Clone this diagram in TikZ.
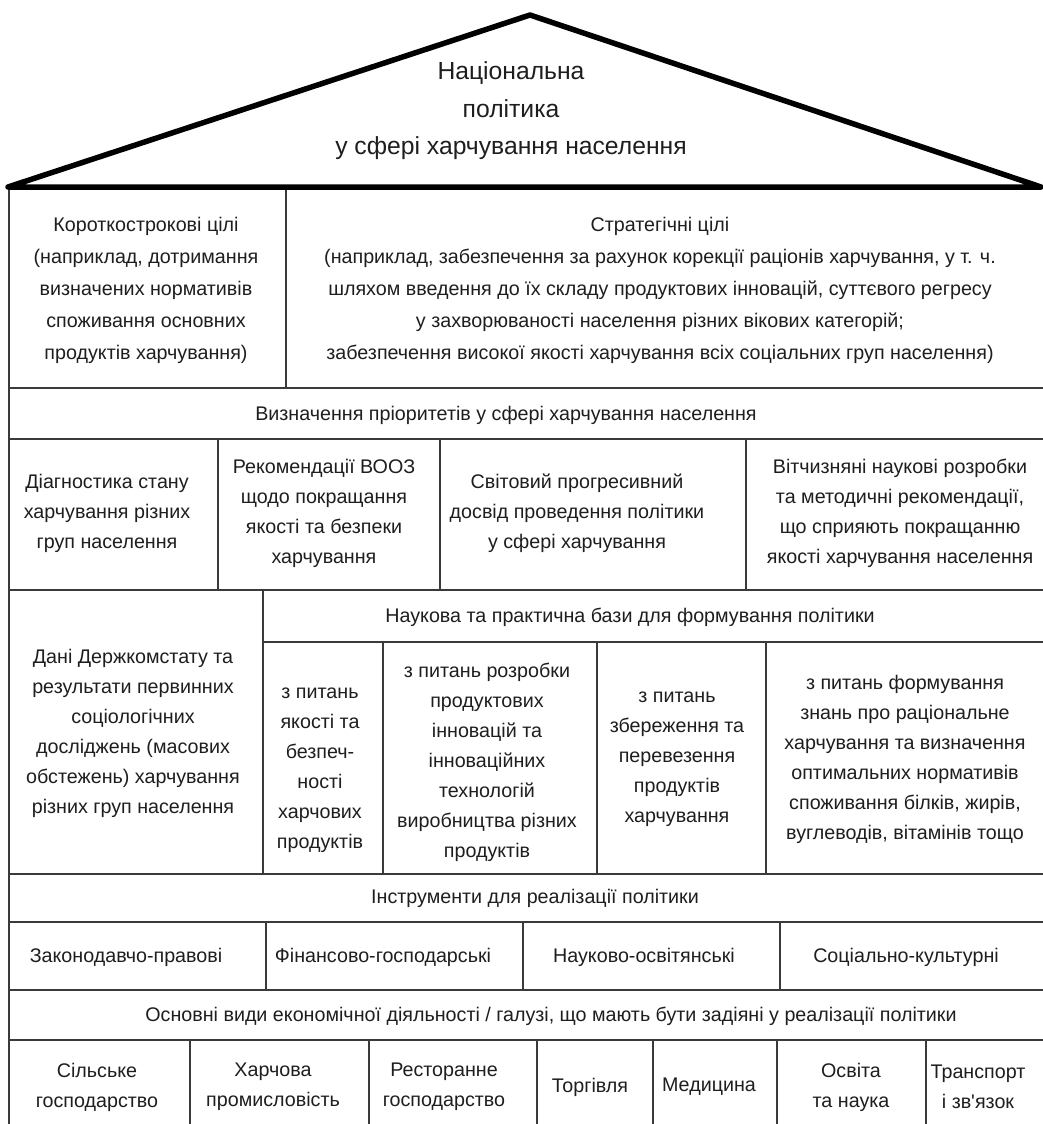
\documentclass[tikz,border=0pt]{standalone}
\usepackage{fontspec}
\setmainfont{Liberation Sans}[Ligatures=TeXOff]
\definecolor{linegray}{HTML}{3A3A3A}
\definecolor{textcol}{HTML}{1E1E1E}
\begin{document}
\begin{tikzpicture}[x=1pt,y=-1pt,
  grid/.style={draw=linegray,line width=1.5pt},
  roof/.style={draw=black,line width=5.5pt,line join=round},
  txt/.style={align=center,inner sep=0pt,text=textcol,font=\fontsize{19.7}{30}\selectfont},
  txtwide/.style={txt,font=\fontsize{19.7}{32}\selectfont},
  title/.style={align=center,inner sep=0pt,text=textcol,font=\fontsize{24.7}{37.5}\selectfont}]
\useasboundingbox (0,0) rectangle (1043,1124);
\fill[white] (0,0) rectangle (1043,1124);

% roof
\draw[roof] (8,187) -- (530,15) -- (1041,187) -- cycle;
\node[title] (nat) at (511,111) {Національна\\політика\\у сфері харчування населення};

% grid lines
\draw[grid] (9,190) -- (9,1130);
\draw[grid] (286,190) -- (286,388);
\draw[grid] (9,388) -- (1050,388);
\draw[grid] (9,439) -- (1050,439);
\draw[grid] (218,439) -- (218,590);
\draw[grid] (440,439) -- (440,590);
\draw[grid] (746,439) -- (746,590);
\draw[grid] (9,590) -- (1050,590);
\draw[grid] (263,590) -- (263,874);
\draw[grid] (263,642) -- (1050,642);
\draw[grid] (383,642) -- (383,874);
\draw[grid] (597,642) -- (597,874);
\draw[grid] (766,642) -- (766,874);
\draw[grid] (9,874) -- (1050,874);
\draw[grid] (9,922) -- (1050,922);
\draw[grid] (266,922) -- (266,990);
\draw[grid] (523,922) -- (523,990);
\draw[grid] (780,922) -- (780,990);
\draw[grid] (9,990) -- (1050,990);
\draw[grid] (9,1040) -- (1050,1040);
\foreach \x in {190,369,537,653,777,926} \draw[grid] (\x,1040) -- (\x,1130);

% row 1
\node[txtwide] (short) at (146,290) {Короткострокові цілі\\(наприклад, дотримання\\визначених нормативів\\споживання основних\\продуктів харчування)};
\node[txtwide] (strat) at (660,290) {Стратегічні цілі\\(наприклад, забезпечення за рахунок корекції раціонів харчування, у т. ч.\\шляхом введення до їх складу продуктових інновацій, суттєвого регресу\\у захворюваності населення різних вікових категорій;\\забезпечення високої якості харчування всіх соціальних груп населення)};

% row 2
\node[txt] (prior) at (506,415) {Визначення пріоритетів у сфері харчування населення};

% row 3
\node[txt] (diag) at (107,513) {Діагностика стану\\харчування різних\\груп населення};
\node[txt] (who) at (324,513) {Рекомендації ВООЗ\\щодо покращання\\якості та безпеки\\харчування};
\node[txt] (world) at (577,513) {Світовий прогресивний\\досвід проведення політики\\у сфері харчування};
\node[txt] (home) at (900,513) {Вітчизняні наукові розробки\\та методичні рекомендації,\\що сприяють покращанню\\якості харчування населення};

% row 4
\node[txt] (stat) at (133,733) {Дані Держкомстату та\\результати первинних\\соціологічних\\досліджень (масових\\обстежень) харчування\\різних груп населення};
\node[txt] (base) at (630,617) {Наукова та практична бази для формування політики};
\node[txt] (q1) at (320,770) {з питань\\якості та\\безпеч-\\ності\\харчових\\продуктів};
\node[txt] (q2) at (487,762) {з питань розробки\\продуктових\\інновацій та\\інноваційних\\технологій\\виробництва різних\\продуктів};
\node[txt] (q3) at (677,759) {з питань\\збереження та\\перевезення\\продуктів\\харчування};
\node[txt] (q4) at (905,759) {з питань формування\\знань про раціональне\\харчування та визначення\\оптимальних нормативів\\споживання білків, жирів,\\вуглеводів, вітамінів тощо};

% row 5
\node[txt] (instr) at (535,898) {Інструменти для реалізації політики};

% row 6
\node[txt] (i1) at (126,957) {Законодавчо-правові};
\node[txt] (i2) at (383,957) {Фінансово-господарські};
\node[txt] (i3) at (644,957) {Науково-освітянські};
\node[txt] (i4) at (906,957) {Соціально-культурні};

% row 7
\node[txt] (econ) at (551,1016) {Основні види економічної діяльності / галузі, що мають бути задіяні у реалізації політики};

% row 8
\node[txt] (b1) at (97,1087) {Сільське\\господарство};
\node[txt] (b2) at (273,1087) {Харчова\\промисловість};
\node[txt] (b3) at (444,1087) {Ресторанне\\господарство};
\node[txt] (b4) at (590,1087) {Торгівля};
\node[txt] (b5) at (709,1087) {Медицина};
\node[txt] (b6) at (851,1087) {Освіта\\та наука};
\node[txt] (b7) at (978,1087) {Транспорт\\і зв'язок};
\end{tikzpicture}
\end{document}
